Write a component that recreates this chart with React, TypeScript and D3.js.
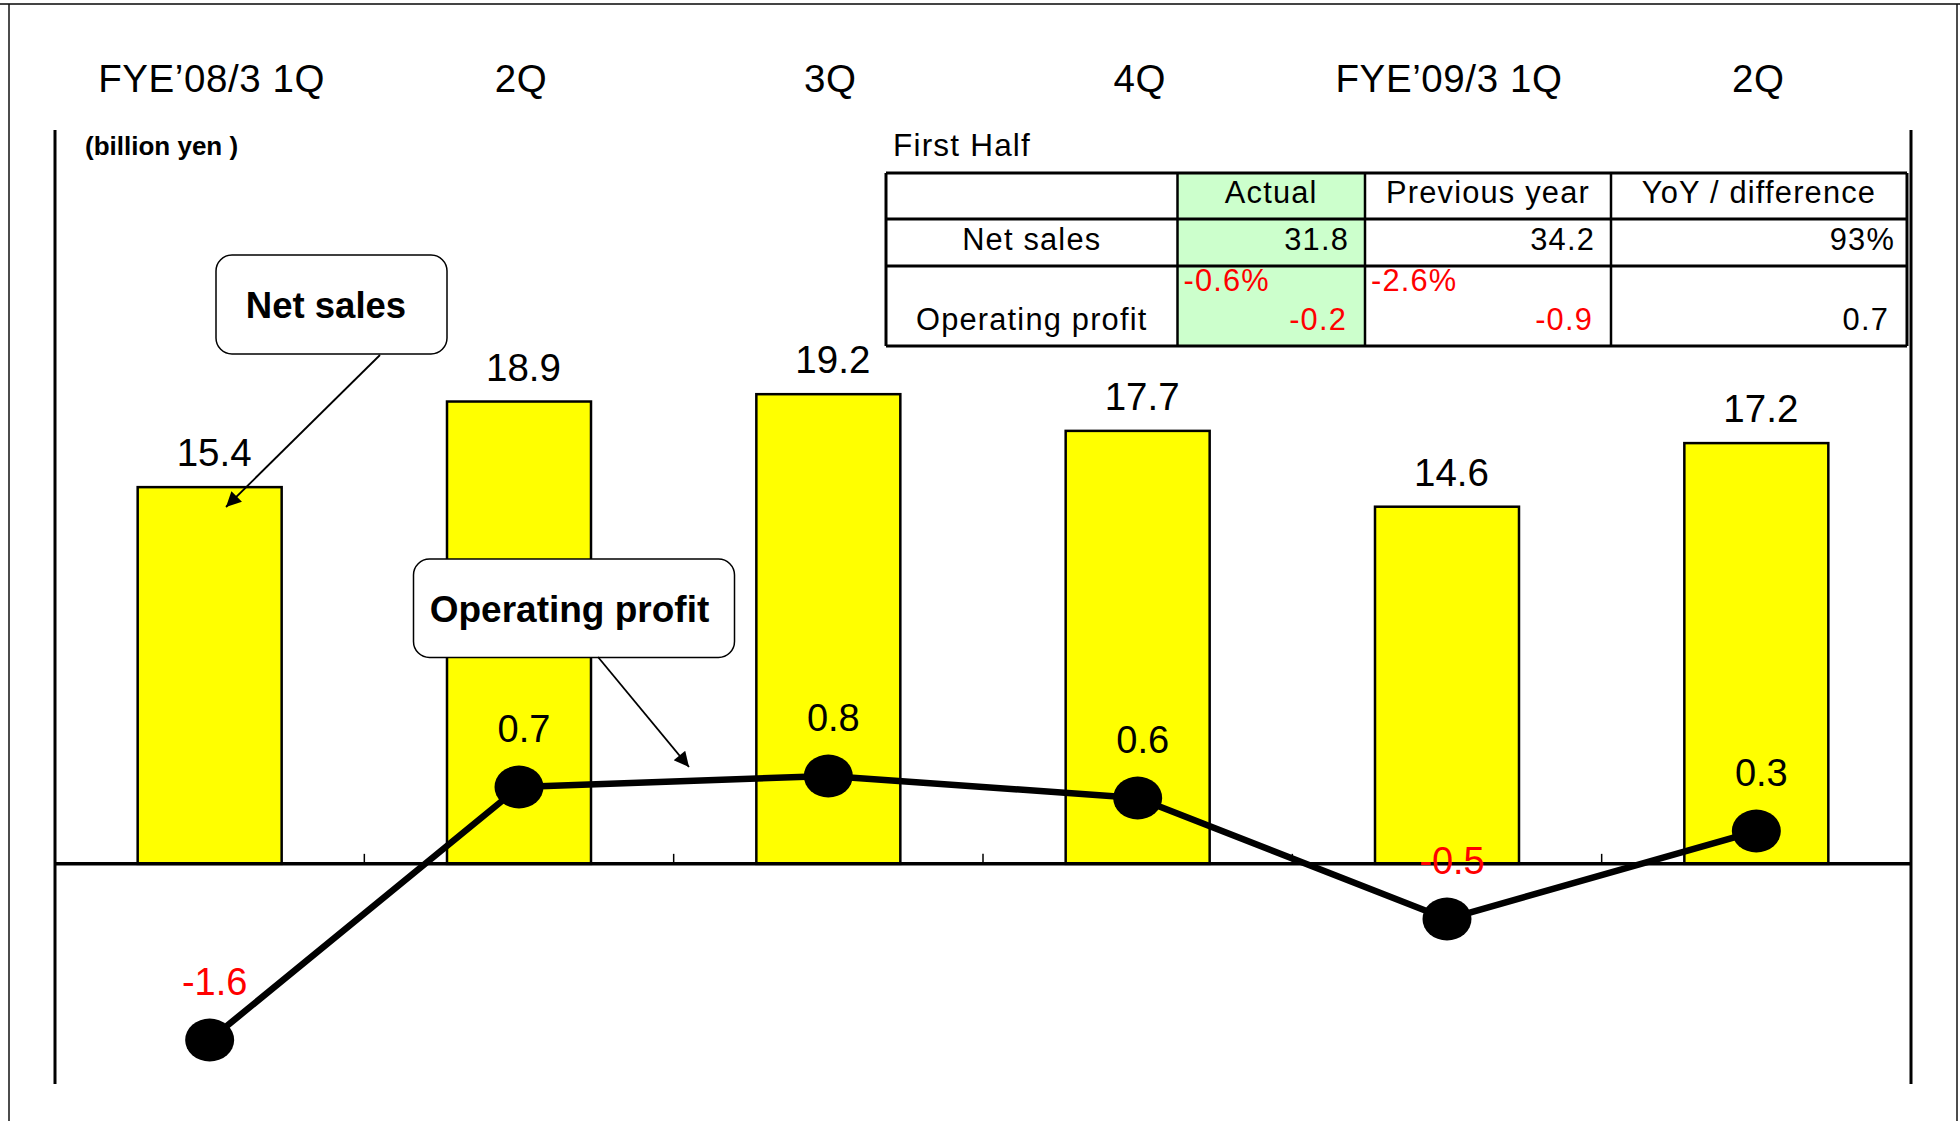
import React from "react";
import * as d3 from "d3";

// ---- data ----
const categories = ["FYE\u201908/3 1Q", "2Q", "3Q", "4Q", "FYE\u201909/3 1Q", "2Q"];
const netSales = [15.4, 18.9, 19.2, 17.7, 14.6, 17.2];
const operatingProfit = [-1.6, 0.7, 0.8, 0.6, -0.5, 0.3];

const unitLabel = "(billion yen )";
const tableTitle = "First Half";
const tableHeaders = ["", "Actual", "Previous year", "YoY / difference"];
const tableRowLabels = ["Net sales", "Operating profit"];
const netSalesRow = ["31.8", "34.2", "93%"];
const opProfitRow = ["-0.2", "-0.9", "0.7"];
const opMarginRow = ["-0.6%", "-2.6%", ""];
const calloutSales = "Net sales";
const calloutProfit = "Operating profit";

const FONT = "'Liberation Sans', Arial, Helvetica, sans-serif";
const W = 1960;
const H = 1121;

export default function App() {
  const left = 55;
  const right = 1911;
  const top = 130;
  const bottom = 1084;

  const idx = d3.range(categories.length);
  const x = d3
    .scaleBand<number>()
    .domain(idx)
    .range([left, right])
    .paddingInner(0.5345)
    .paddingOuter(0.26725);
  const step = x.step();
  const yS = d3.scaleLinear().domain([-9, 30]).range([bottom, top]);
  const yP = d3.scaleLinear().domain([-2, 6.673]).range([bottom, top]);
  const zeroY = yS(0);

  const cx = (i: number) => (x(i) as number) + x.bandwidth() / 2;

  const line = d3
    .line<number>()
    .x((_, i) => cx(i))
    .y((d) => yP(d));

  // table layout
  const colX = [886, 1177.5, 1365, 1611, 1907];
  const rowY = [173, 219, 266, 346];
  const red = "#FF0000";
  const isNeg = (s: string) => s.trim().startsWith("-");

  const tableTextStyle: React.CSSProperties = { letterSpacing: "1.2px" };
  const TFS = 30.8;

  return (
    <svg
      width={W}
      height={H}
      style={{ position: "absolute", left: 0, top: 0, background: "#fff" }}
      fontFamily={FONT}
    >
      <defs>
        <marker
          id="arrowBig"
          viewBox="0 0 10 10"
          refX="10"
          refY="5"
          markerWidth="20"
          markerHeight="15"
          markerUnits="userSpaceOnUse"
          orient="auto"
        >
          <path d="M0,0 L10,5 L0,10 z" fill="#000" />
        </marker>
      </defs>
      <rect x={0} y={0} width={W} height={H} fill="#fff" />
      {/* frame */}
      <line x1={0} x2={W} y1={4} y2={4} stroke="#444" strokeWidth={2} />
      <line x1={9} x2={9} y1={4} y2={H} stroke="#111" strokeWidth={1.5} />
      <line x1={1957} x2={1957} y1={4} y2={H} stroke="#111" strokeWidth={1.5} />

      {/* category labels */}
      {categories.map((c, i) => (
        <text
          key={"c" + i}
          x={cx(i) + 2}
          y={92}
          textAnchor="middle"
          fontSize={38.5}
          style={{ letterSpacing: "0.6px" }}
          fill="#000"
        >
          {c}
        </text>
      ))}

      {/* axes verticals */}
      <line x1={left} x2={left} y1={top} y2={bottom} stroke="#000" strokeWidth={3} />
      <line x1={right} x2={right} y1={top} y2={bottom} stroke="#000" strokeWidth={3} />

      <text x={85} y={155} fontSize={26} fontWeight="bold">
        {unitLabel}
      </text>

      {/* bars */}
      {netSales.map((v, i) => (
        <rect
          key={"b" + i}
          x={x(i)}
          y={yS(v)}
          width={x.bandwidth()}
          height={zeroY - yS(v)}
          fill="#FFFF00"
          stroke="#000"
          strokeWidth={2.5}
        />
      ))}

      {/* baseline and ticks */}
      <line x1={left} x2={right} y1={zeroY} y2={zeroY} stroke="#000" strokeWidth={3.5} />
      {d3.range(1, categories.length).map((i) => (
        <line
          key={"t" + i}
          x1={left + step * i}
          x2={left + step * i}
          y1={zeroY - 10}
          y2={zeroY}
          stroke="#000"
          strokeWidth={1.5}
        />
      ))}

      {/* bar labels */}
      {netSales.map((v, i) => (
        <text
          key={"bl" + i}
          x={cx(i) + 4.5}
          y={yS(v) - 21}
          textAnchor="middle"
          fontSize={38.5}
          fill="#000"
        >
          {v.toFixed(1)}
        </text>
      ))}

      {/* profit line */}
      <path d={line(operatingProfit) || ""} fill="none" stroke="#000" strokeWidth={6.5} strokeLinejoin="round" />
      {operatingProfit.map((v, i) => (
        <ellipse key={"m" + i} cx={cx(i)} cy={yP(v)} rx={24.5} ry={21.5} fill="#000" />
      ))}
      {operatingProfit.map((v, i) => (
        <text
          key={"pl" + i}
          x={cx(i) + 5}
          y={yP(v) - 45}
          textAnchor="middle"
          fontSize={38}
          fill={v < 0 ? red : "#000"}
        >
          {v.toFixed(1)}
        </text>
      ))}

      {/* callouts */}
      <rect x={216} y={255} width={231} height={99} rx={16} fill="#fff" stroke="#000" strokeWidth={1.5} />
      <text x={326} y={318} textAnchor="middle" fontSize={36.5} fontWeight="bold">
        {calloutSales}
      </text>
      <line x1={380} y1={355} x2={226} y2={507} stroke="#000" strokeWidth={1.8} markerEnd="url(#arrowBig)" />

      <rect x={413.5} y={559} width={321} height={98.5} rx={16} fill="#fff" stroke="#000" strokeWidth={1.5} />
      <text x={569.5} y={622} textAnchor="middle" fontSize={37} fontWeight="bold">
        {calloutProfit}
      </text>
      <line x1={598} y1={657} x2={689} y2={767} stroke="#000" strokeWidth={1.8} markerEnd="url(#arrowBig)" />

      {/* table */}
      <text x={893} y={156} fontSize={31.5} style={tableTextStyle}>
        {tableTitle}
      </text>
      <rect x={colX[1]} y={rowY[0]} width={colX[2] - colX[1]} height={rowY[3] - rowY[0]} fill="#CCFFCC" />
      {rowY.map((yy, i) => (
        <line key={"rh" + i} x1={colX[0]} x2={colX[4]} y1={yy} y2={yy} stroke="#000" strokeWidth={3} />
      ))}
      {colX.map((xx, i) => (
        <line
          key={"cv" + i}
          x1={xx}
          x2={xx}
          y1={rowY[0]}
          y2={rowY[3]}
          stroke="#000"
          strokeWidth={i === 0 || i === 4 ? 3 : 2.5}
        />
      ))}
      {tableHeaders.map((h, i) =>
        h ? (
          <text
            key={"th" + i}
            x={(colX[i] + colX[i + 1]) / 2}
            y={203}
            textAnchor="middle"
            fontSize={TFS}
            style={tableTextStyle}
          >
            {h}
          </text>
        ) : null
      )}
      <text x={(colX[0] + colX[1]) / 2} y={250} textAnchor="middle" fontSize={TFS} style={tableTextStyle}>
        {tableRowLabels[0]}
      </text>
      <text x={(colX[0] + colX[1]) / 2} y={330} textAnchor="middle" fontSize={TFS} style={tableTextStyle}>
        {tableRowLabels[1]}
      </text>
      {netSalesRow.map((s, i) => (
        <text
          key={"ns" + i}
          x={colX[i + 2] - (i === 2 ? 12 : 16)}
          y={250}
          textAnchor="end"
          fontSize={TFS}
          style={tableTextStyle}
          fill={isNeg(s) ? red : "#000"}
        >
          {s}
        </text>
      ))}
      {opProfitRow.map((s, i) => (
        <text
          key={"op" + i}
          x={colX[i + 2] - 18}
          y={330}
          textAnchor="end"
          fontSize={TFS}
          style={tableTextStyle}
          fill={isNeg(s) ? red : "#000"}
        >
          {s}
        </text>
      ))}
      {opMarginRow.map((s, i) =>
        s ? (
          <text
            key={"om" + i}
            x={colX[i + 1] + 6}
            y={291}
            fontSize={TFS}
            style={tableTextStyle}
            fill={isNeg(s) ? red : "#000"}
          >
            {s}
          </text>
        ) : null
      )}
    </svg>
  );
}
